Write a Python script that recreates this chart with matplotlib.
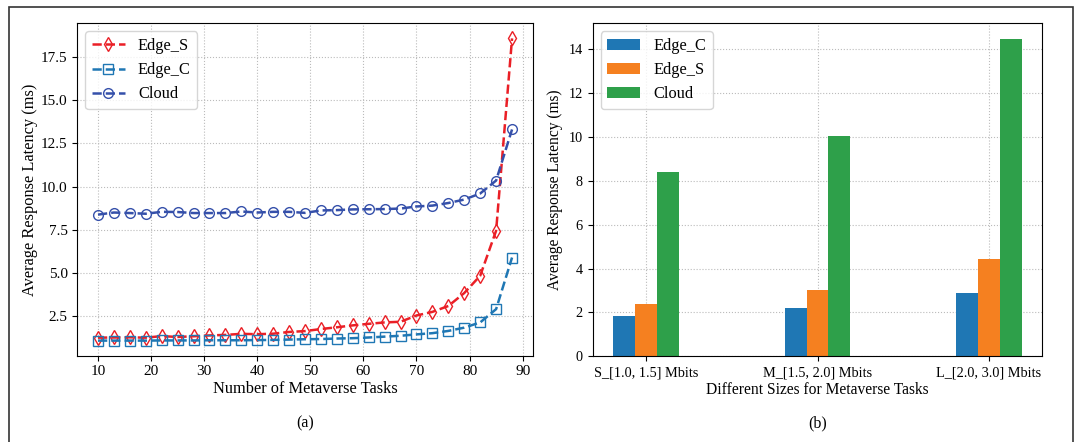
import matplotlib
matplotlib.use("Agg")
import matplotlib.pyplot as plt
from matplotlib.patches import Rectangle

plt.rcParams["font.family"] = ["Liberation Serif", "DejaVu Serif"]

# (a) latency vs number of tasks
tasks = [10, 13, 16, 19, 22, 25, 28, 31, 34, 37, 40, 43, 46, 49,
         52, 55, 58, 61, 64, 67, 70, 73, 76, 79, 82, 85, 88]
edge_s = [1.27, 1.28, 1.29, 1.27, 1.36, 1.31, 1.35, 1.40, 1.43, 1.49, 1.47, 1.50, 1.60, 1.65,
          1.77, 1.87, 1.98, 2.07, 2.15, 2.19, 2.55, 2.76, 3.10, 3.85, 4.85, 7.45, 18.56]
edge_c = [1.10, 1.10, 1.10, 1.10, 1.11, 1.11, 1.11, 1.12, 1.12, 1.12, 1.13, 1.14, 1.16, 1.18,
          1.19, 1.22, 1.24, 1.28, 1.33, 1.38, 1.46, 1.53, 1.66, 1.85, 2.15, 2.92, 5.90]
cloud = [8.38, 8.50, 8.47, 8.43, 8.54, 8.53, 8.47, 8.47, 8.47, 8.56, 8.50, 8.54, 8.54, 8.48,
         8.62, 8.64, 8.68, 8.69, 8.70, 8.73, 8.85, 8.90, 9.05, 9.25, 9.60, 10.35, 13.30]

# (b) latency vs task size
size_labels = ["S_[1.0, 1.5] Mbits", "M_[1.5, 2.0] Mbits", "L_[2.0, 3.0] Mbits"]
bar_edge_c = [1.84, 2.20, 2.89]
bar_edge_s = [2.38, 3.03, 4.44]
bar_cloud = [8.40, 10.05, 14.47]

fig = plt.figure(figsize=(10.78, 4.42), dpi=100)
fig.patches.append(Rectangle((9 / 1078, -0.05), 1064 / 1078, 1.05 - 7 / 442,
                             transform=fig.transFigure, fill=False,
                             edgecolor="#333333", linewidth=1.2))

ax1 = fig.add_axes([0.0717, 0.1952, 0.4225, 0.7521])
ax2 = fig.add_axes([0.5498, 0.1939, 0.4171, 0.7534])

line_kw = dict(linestyle="--", linewidth=1.8, markersize=7, markerfacecolor="none",
               markeredgewidth=1.0)
ax1.plot(tasks, edge_s, marker="d", color="#ea1f26", label="Edge_S", **line_kw)
ax1.plot(tasks, edge_c, marker="s", color="#1f77b4", label="Edge_C", **line_kw)
ax1.plot(tasks, cloud, marker="o", color="#3550aa", label="Cloud", **line_kw)
ax1.set_xticks([10, 20, 30, 40, 50, 60, 70, 80, 90])
ax1.set_yticks([2.5, 5.0, 7.5, 10.0, 12.5, 15.0, 17.5])
ax1.set_xlabel("Number of Metaverse Tasks", fontsize=11.8, labelpad=2)
ax1.set_ylabel("Average Response Latency (ms)", fontsize=11.8, labelpad=2)
ax1.tick_params(labelsize=11)
ax1.legend(loc="upper left", fontsize=11.8)

width = 0.128
pos = list(range(len(size_labels)))
ax2.bar([p - width for p in pos], bar_edge_c, width, color="#1f77b4", label="Edge_C", zorder=2)
ax2.bar(pos, bar_edge_s, width, color="#f58020", label="Edge_S", zorder=2)
ax2.bar([p + width for p in pos], bar_cloud, width, color="#2ea04a", label="Cloud", zorder=2)
ax2.set_xticks(pos)
ax2.set_xticklabels(size_labels)
ax2.set_xlabel("Different Sizes for Metaverse Tasks", fontsize=11.2, labelpad=2)
ax2.set_ylabel("Average Response Latency (ms)", fontsize=11.2)
ax2.tick_params(labelsize=10.3)
ax2.legend(loc="upper left", fontsize=11.8)

for ax in (ax1, ax2):
    ax.grid(True, linestyle=":", color="#bbbbbb", linewidth=0.8)
    ax.set_axisbelow(True)

fig.text(0.0717 + 0.4225 / 2, 0.043, "(a)", ha="center", va="center", fontsize=11.5)
fig.text(0.5498 + 0.4171 / 2, 0.043, "(b)", ha="center", va="center", fontsize=11.5)

fig.savefig("out.png", dpi=100)
